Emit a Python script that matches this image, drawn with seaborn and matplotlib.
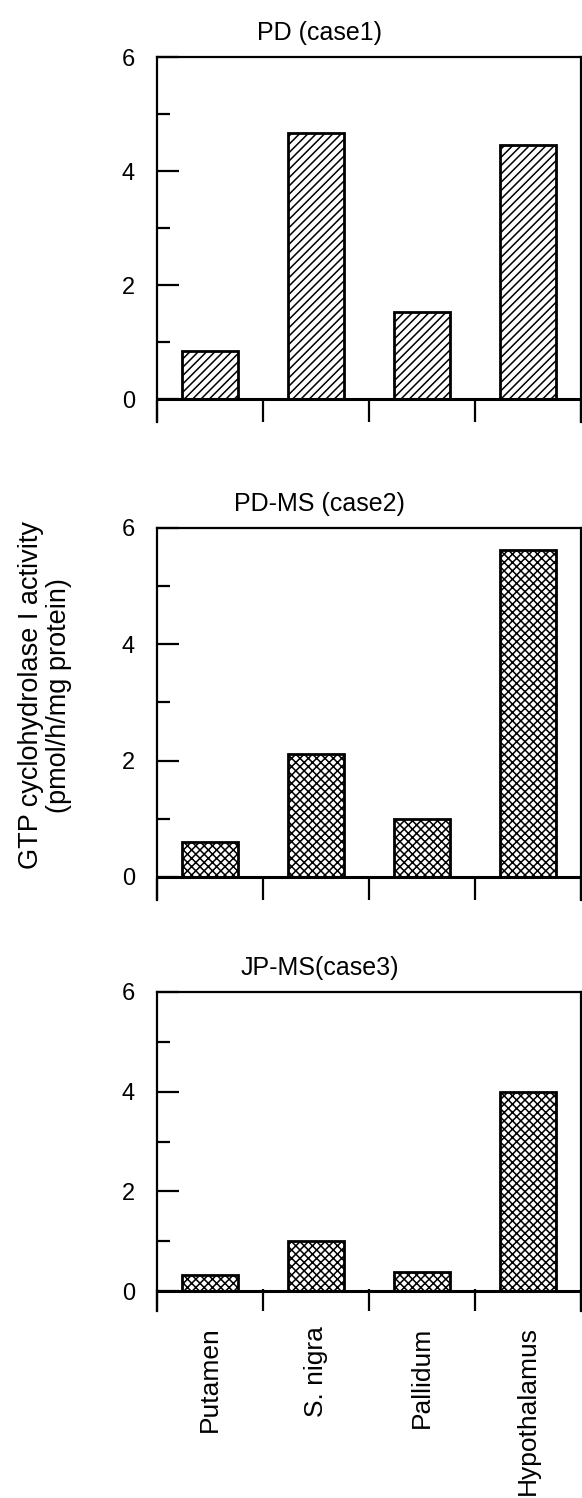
""" GTP cyclohydrolase I activity per brain region, three cases """

import seaborn as sns
import matplotlib.pyplot as plt

# Data
regions = ["Putamen", "S. nigra", "Pallidum", "Hypothalamus"]
titles = ["PD (case1)", "PD-MS (case2)", "JP-MS(case3)"]
pd_case1 = [0.85, 4.67, 1.53, 4.46]
pdms_case2 = [0.60, 2.12, 1.00, 5.63]
jpms_case3 = [0.32, 1.00, 0.39, 4.00]
hatches = ["////", "xxxx", "xxxx"]


def draw_panel(ax, values, title, hatch, show_labels):
    """ One bar panel with old-style inward ticks """
    sns.barplot(x=regions, y=values, ax=ax, color="white", edgecolor="black",
                linewidth=2, width=0.52, saturation=1)
    for bar in ax.patches:
        bar.set_hatch(hatch)
    ax.axhline(0, color="black", lw=2.2)
    ax.set_xlim(-0.5, 3.5)
    ax.set_ylim(-0.4, 6)
    # boundary ticks rise from the spine bottom to the zero line
    ax.set_xticks([-0.5, 0.5, 1.5, 2.5, 3.5])
    ax.set_xticklabels([])
    ax.set_xticks(range(len(regions)), minor=True)
    ax.set_xticklabels(regions if show_labels else [], minor=True, rotation=90, fontsize=19)
    ax.tick_params(axis="x", which="major", direction="in", length=16, width=1.6)
    ax.tick_params(axis="x", which="minor", length=0, pad=11)
    ax.set_yticks([0, 2, 4, 6])
    ax.set_yticks([1, 3, 5], minor=True)
    ax.tick_params(axis="y", which="major", direction="in", length=16, width=1.6, pad=16, labelsize=17)
    ax.tick_params(axis="y", which="minor", direction="in", length=9.5, width=1.6)
    ax.spines["bottom"].set_visible(False)
    for side in ["left", "right", "top"]:
        ax.spines[side].set_linewidth(1.6)
    ax.set_xlabel("")
    ax.set_ylabel("")
    ax.set_title(title, x=0.384, pad=12, fontsize=18)


if __name__ == "__main__":
    sns.set_style("ticks")
    plt.rcParams["font.family"] = ["Liberation Sans", "DejaVu Sans"]
    plt.rcParams["hatch.linewidth"] = 1.1
    for key in ["text.color", "axes.labelcolor", "xtick.color", "ytick.color", "axes.edgecolor"]:
        plt.rcParams[key] = "black"

    fig = plt.figure(figsize=(5.82, 14.98), dpi=100)
    left, width = 157 / 582, 424 / 582
    boxes = [(57, 422), (528, 900), (992, 1311)]
    series = [pd_case1, pdms_case2, jpms_case3]
    for i, (top, bottom) in enumerate(boxes):
        ax = fig.add_axes([left, 1 - bottom / 1498, width, (bottom - top) / 1498])
        draw_panel(ax, series[i], titles[i], hatches[i], i == 2)

    fig.text(0.077, 0.536, "GTP cyclohydrolase I activity\n(pmol/h/mg protein)",
             rotation=90, ha="center", va="center", fontsize=19.5, linespacing=1.1)
    plt.savefig("out.png", dpi=100)
